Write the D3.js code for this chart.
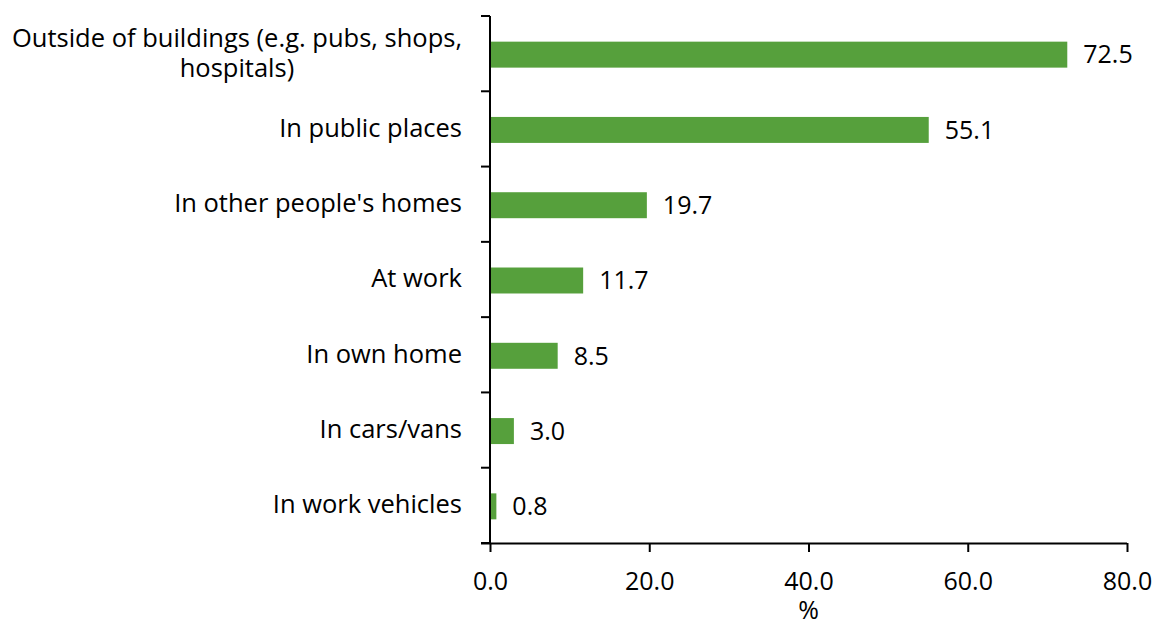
<!DOCTYPE html>
<html>
<head>
<meta charset="utf-8">
<script src="https://cdn.jsdelivr.net/npm/d3@7"></script>
<style>
  html, body { margin: 0; padding: 0; background: #fff; }
  svg text { font-family: "Open Sans", sans-serif; fill: #000; }
</style>
</head>
<body>
<svg id="chart" width="1158" height="624"></svg>
<script>
// Where the incidents took place (% of respondents)
const categories = [
  "Outside of buildings (e.g. pubs, shops,\nhospitals)",
  "In public places",
  "In other people's homes",
  "At work",
  "In own home",
  "In cars/vans",
  "In work vehicles"
];
const values = [72.5, 55.1, 19.7, 11.7, 8.5, 3.0, 0.8];
const xTicks = [0, 20, 40, 60, 80];
const xTitle = "%";

const svg = d3.select("#chart");
const margin = { top: 16, left: 490, right: 31, bottom: 81 };
const W = 1158, H = 624;
const fontSize = 25;
const catFontSize = 25.5;

const x = d3.scaleLinear().domain([0, 80]).range([margin.left, W - margin.right]);
const y = d3.scaleBand().domain(categories)
  .range([margin.top, H - margin.bottom])
  .paddingInner(0.655).paddingOuter(0.3275);

// bars
svg.append("g").selectAll("rect")
  .data(values)
  .join("rect")
  .attr("x", x(0))
  .attr("y", (d, i) => y(categories[i]) + 1)
  .attr("width", d => x(d) - x(0))
  .attr("height", y.bandwidth())
  .attr("fill", "#56A03C");

// value labels
svg.append("g").selectAll("text")
  .data(values)
  .join("text")
  .attr("x", d => x(d) + 16)
  .attr("y", (d, i) => y(categories[i]) + y.bandwidth() / 2 + 1)
  .attr("dy", "0.35em")
  .attr("font-size", fontSize)
  .text(d => d.toFixed(1));

// x axis
const xAxis = svg.append("g")
  .attr("transform", `translate(0,${H - margin.bottom})`)
  .call(d3.axisBottom(x).tickValues(xTicks).tickSize(9).tickPadding(20).tickFormat(d3.format(".1f")));
xAxis.select(".domain").attr("d", `M${x(0) - 9},0.5H${x(80)}`);
xAxis.selectAll("path, line").attr("stroke", "#000").attr("stroke-width", 2);
xAxis.selectAll("text").attr("font-size", fontSize).attr("font-family", "Open Sans, sans-serif");

svg.append("text")
  .attr("x", (x(0) + x(80)) / 2)
  .attr("y", 610)
  .attr("dy", "0.35em")
  .attr("text-anchor", "middle")
  .attr("font-size", fontSize)
  .text(xTitle);

// y axis with category boundary ticks
const yAxis = svg.append("g").attr("transform", `translate(${x(0)},0)`);
const boundaries = d3.range(categories.length + 1).map(i => margin.top + (H - margin.bottom - margin.top) * i / categories.length);
yAxis.append("path")
  .attr("d", `M0,${margin.top}V${H - margin.bottom}`)
  .attr("stroke", "#000").attr("stroke-width", 2).attr("fill", "none");
yAxis.selectAll("line")
  .data(boundaries)
  .join("line")
  .attr("x1", -9).attr("x2", 0)
  .attr("y1", d => d).attr("y2", d => d)
  .attr("stroke", "#000").attr("stroke-width", 2);

// category labels: multi-line labels centred as a block, right edge aligned
const labelRight = x(0) - 28;
const lineH = 30;
categories.forEach(cat => {
  const lines = cat.split("\n");
  const g = svg.append("g");
  const texts = lines.map((ln, j) => g.append("text")
    .attr("font-size", catFontSize)
    .attr("y", y(cat) + y.bandwidth() / 2 + (j - (lines.length - 1) / 2) * lineH - 1)
    .attr("dy", "0.35em")
    .text(ln));
  const widths = texts.map(t => t.node().getComputedTextLength());
  const maxW = d3.max(widths);
  texts.forEach(t => t.attr("text-anchor", "middle").attr("x", labelRight - maxW / 2));
});
</script>
</body>
</html>
